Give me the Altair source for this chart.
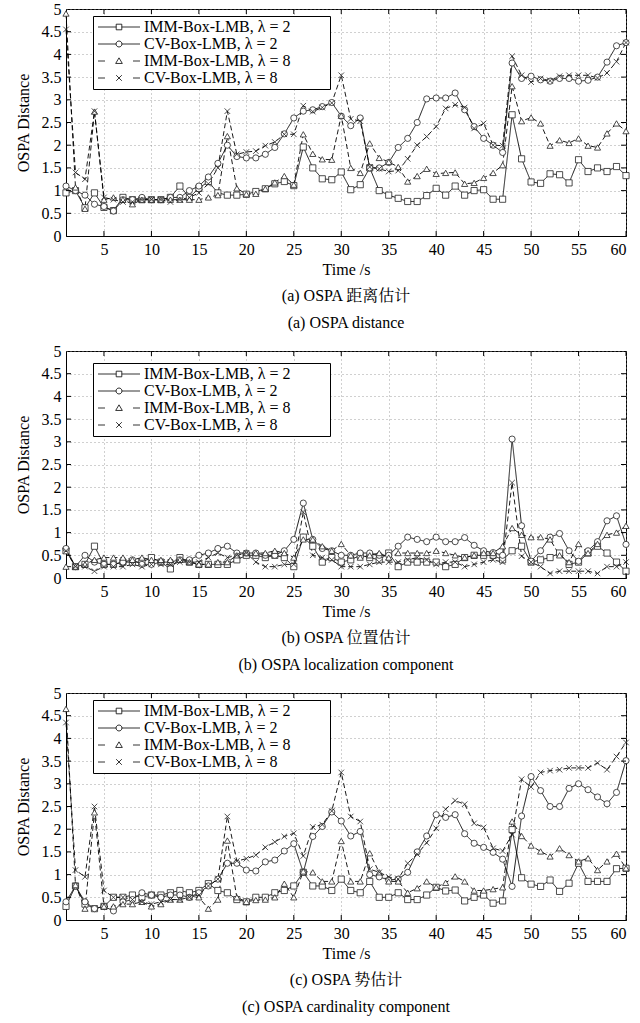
import altair as alt
import pandas as pd

FONT = "Liberation Serif, 'Noto Serif CJK SC', 'Noto Sans CJK SC', serif"

t = list(range(1, 61))
SERIES = ["IMM-Box-LMB, λ = 2", "CV-Box-LMB, λ = 2", "IMM-Box-LMB, λ = 8", "CV-Box-LMB, λ = 8"]

# ---- panel (a) OSPA distance
A_IMM2 = [0.95, 1.0, 0.62, 0.95, 0.63, 0.56, 0.85, 0.8, 0.8, 0.8,
          0.8, 0.85, 1.1, 0.85, 1.05, 1.2, 0.95, 0.9, 0.9, 0.92,
          0.98, 1.04, 1.15, 1.2, 1.11, 1.96, 1.5, 1.26, 1.24, 1.41,
          1.02, 1.13, 1.5, 1.0, 0.9, 0.83, 0.76, 0.76, 0.89, 1.05,
          0.9, 1.1, 0.9, 1.0, 1.02, 0.81, 0.81, 2.67, 1.7, 1.19,
          1.16, 1.37, 1.35, 1.17, 1.68, 1.42, 1.5, 1.42, 1.53, 1.33]
A_CV2 = [1.1, 1.0, 0.9, 0.7, 0.65, 0.55, 0.8, 0.8, 0.85, 0.8,
         0.8, 0.85, 0.85, 1.0, 1.1, 1.3, 1.6, 2.0, 1.75, 1.72,
         1.72, 1.8, 1.95, 2.25, 2.6, 2.75, 2.78, 2.85, 2.94, 2.64,
         2.43, 2.6, 1.5, 1.5, 1.62, 1.95, 2.15, 2.5, 3.02, 3.04,
         3.04, 3.15, 2.78, 2.41, 2.15, 2.0, 1.84, 3.81, 3.47, 3.52,
         3.44, 3.41, 3.47, 3.47, 3.41, 3.43, 3.5, 3.83, 4.19, 4.26]
A_IMM8 = [4.9, 1.07, 0.6, 2.74, 0.8, 0.85, 0.8, 0.7, 0.8, 0.8,
          0.8, 0.8, 0.8, 0.8, 0.8, 0.85, 0.9, 2.2, 1.05, 0.92,
          0.93, 1.04, 1.18, 1.32, 1.13, 2.24, 1.81, 1.69, 1.68, 2.65,
          1.5, 1.39, 2.04, 1.72, 1.63, 1.52, 1.2, 1.32, 1.48, 1.37,
          1.39, 1.4, 1.15, 1.17, 1.28, 1.39, 1.56, 3.3, 2.53, 2.61,
          2.48, 1.99, 2.11, 2.05, 2.15, 1.99, 1.95, 2.26, 2.48, 2.31]
A_CV8 = [4.55, 1.4, 1.25, 2.75, 0.85, 0.8, 0.75, 0.75, 0.8, 0.8,
         0.8, 0.75, 0.8, 0.85, 0.95, 1.15, 1.5, 2.75, 1.8, 1.85,
         1.87, 1.99, 2.07, 2.24, 2.24, 2.87, 2.74, 2.83, 2.93, 3.54,
         2.58, 2.53, 1.52, 1.48, 1.42, 1.44, 1.7, 2.0, 2.19, 2.41,
         2.81, 2.89, 2.83, 2.37, 2.48, 2.0, 1.99, 3.96, 3.54, 3.39,
         3.47, 3.42, 3.52, 3.54, 3.54, 3.54, 3.48, 3.59, 3.84, 4.26]

# ---- panel (b) OSPA localization
B_IMM2 = [0.6, 0.25, 0.3, 0.7, 0.3, 0.3, 0.35, 0.35, 0.35, 0.45,
          0.35, 0.2, 0.45, 0.35, 0.3, 0.3, 0.3, 0.3, 0.4, 0.5,
          0.5, 0.45, 0.5, 0.45, 0.25, 0.9, 0.7, 0.35, 0.45, 0.35,
          0.4, 0.5, 0.45, 0.4, 0.55, 0.25, 0.35, 0.35, 0.35, 0.35,
          0.25, 0.3, 0.45, 0.5, 0.5, 0.5, 0.4, 0.6, 0.7, 0.35,
          0.4, 0.45, 0.55, 0.3, 0.35, 0.55, 0.7, 0.55, 0.35, 0.15]
B_CV2 = [0.65, 0.25, 0.5, 0.35, 0.3, 0.3, 0.35, 0.4, 0.3, 0.3,
         0.35, 0.35, 0.4, 0.4, 0.5, 0.55, 0.65, 0.7, 0.55, 0.55,
         0.55, 0.5, 0.5, 0.6, 0.85, 1.65, 0.85, 0.65, 0.6, 0.5,
         0.5, 0.55, 0.55, 0.5, 0.5, 0.7, 0.9, 0.85, 0.8, 0.9,
         0.8, 0.8, 0.89, 0.72, 0.6, 0.56, 0.5, 3.06, 1.15, 0.37,
         0.6, 0.9, 0.98, 0.6, 0.37, 0.6, 0.8, 1.26, 1.37, 0.74]
B_IMM8 = [0.25, 0.25, 0.3, 0.4, 0.45, 0.45, 0.45, 0.4, 0.45, 0.4,
          0.4, 0.4, 0.4, 0.35, 0.3, 0.3, 0.35, 0.35, 0.5, 0.55,
          0.55, 0.55, 0.6, 0.55, 0.45, 0.85, 0.85, 0.7, 0.6, 0.75,
          0.5, 0.45, 0.5, 0.55, 0.45, 0.55, 0.55, 0.55, 0.55, 0.6,
          0.55, 0.5, 0.45, 0.5, 0.55, 0.55, 0.7, 1.1, 0.95, 0.9,
          0.9, 0.85, 0.5, 0.35, 0.75, 0.55, 0.75, 0.95, 1.0, 1.15]
B_CV8 = [0.6, 0.25, 0.25, 0.15, 0.25, 0.25, 0.25, 0.3, 0.25, 0.3,
         0.3, 0.3, 0.35, 0.35, 0.35, 0.45, 0.55, 0.45, 0.5, 0.55,
         0.35, 0.25, 0.25, 0.3, 0.3, 1.45, 0.5, 0.45, 0.4, 0.25,
         0.25, 0.25, 0.3, 0.35, 0.35, 0.35, 0.4, 0.45, 0.4, 0.3,
         0.35, 0.35, 0.25, 0.3, 0.35, 0.4, 0.35, 2.1, 0.48, 0.35,
         0.25, 0.1, 0.15, 0.15, 0.15, 0.15, 0.1, 0.25, 0.25, 0.35]

# ---- panel (c) OSPA cardinality
C_IMM2 = [0.3, 0.75, 0.35, 0.25, 0.3, 0.5, 0.5, 0.55, 0.5, 0.55,
          0.55, 0.6, 0.65, 0.6, 0.65, 0.8, 0.65, 0.6, 0.45, 0.4,
          0.5, 0.5, 0.6, 0.65, 0.75, 1.05, 0.75, 0.75, 0.65, 0.9,
          0.65, 0.6, 0.85, 0.5, 0.5, 0.6, 0.45, 0.45, 0.55, 0.72,
          0.64, 0.66, 0.42, 0.5, 0.55, 0.37, 0.42, 1.99, 0.93, 0.79,
          0.74, 0.88, 0.63, 0.81, 1.25, 0.85, 0.85, 0.85, 1.13, 1.14]
C_CV2 = [0.4, 0.75, 0.4, 0.25, 0.3, 0.2, 0.4, 0.45, 0.6, 0.55,
         0.5, 0.55, 0.55, 0.5, 0.6, 0.75, 0.9, 1.25, 1.25, 1.1,
         1.08, 1.28, 1.32, 1.52, 1.68, 1.05, 1.84, 2.06, 2.38, 2.18,
         1.85, 1.95, 1.0, 0.95, 0.88, 0.9, 1.05, 1.5, 1.85, 2.32,
         2.26, 2.32, 1.9, 1.69, 1.6, 1.49, 1.34, 0.74, 2.29, 3.16,
         2.85, 2.5, 2.5, 2.9, 3.0, 2.87, 2.71, 2.56, 2.81, 3.51]
C_IMM8 = [4.65, 0.77, 0.25, 2.37, 0.3, 0.3, 0.35, 0.35, 0.4, 0.3,
          0.35, 0.45, 0.45, 0.5, 0.5, 0.25, 0.45, 1.75, 0.5, 0.4,
          0.44, 0.45, 0.5, 0.8, 0.5, 1.07, 1.05, 0.85, 0.85, 1.74,
          0.85, 0.85, 1.47, 1.05, 0.85, 0.85, 0.6, 0.7, 0.85, 0.72,
          0.82, 0.96, 0.85, 0.65, 0.65, 0.68, 0.72, 2.17, 1.85, 1.64,
          1.51, 1.4, 1.58, 1.43, 1.29, 1.36, 1.1, 1.29, 1.46, 1.14]
C_CV8 = [4.35, 1.1, 0.95, 2.5, 0.65, 0.5, 0.5, 0.45, 0.4, 0.35,
         0.4, 0.45, 0.45, 0.5, 0.55, 0.75, 0.9, 2.28, 1.3, 1.35,
         1.43, 1.6, 1.72, 1.84, 1.91, 1.41, 2.05, 2.1, 2.4, 3.25,
         2.28, 2.17, 1.12, 1.05, 0.95, 0.9, 1.25, 1.45, 1.7, 2.02,
         2.44, 2.63, 2.55, 2.13, 2.04, 1.58, 1.52, 1.88, 3.1, 2.93,
         3.25, 3.29, 3.31, 3.35, 3.35, 3.35, 3.46, 3.31, 3.6, 3.91]

X_TICKS = [5, 10, 15, 20, 25, 30, 35, 40, 45, 50, 55, 60]
Y_TICKS = [0, 0.5, 1, 1.5, 2, 2.5, 3, 3.5, 4, 4.5, 5]

CAPTIONS = [
    ["(a) OSPA 距离估计", "(a) OSPA distance"],
    ["(b) OSPA 位置估计", "(b) OSPA localization component"],
    ["(c) OSPA 势估计", "(c) OSPA cardinality component"],
]

MARKERS = ["square", "circle", "triangle-up", "M-0.9,-0.9L0.9,0.9M-0.9,0.9L0.9,-0.9"]

# legend glyphs: line sample + marker (unit square coordinates, scaled by symbol size)
SQ = "M-0.8,-0.8H0.8V0.8H-0.8Z"
CI = "M0.85,0A0.85,0.85 0 1,1 -0.85,0A0.85,0.85 0 1,1 0.85,0Z"
TR = "M0,-0.9L0.95,0.7H-0.95Z"
XX = "M-0.8,-0.8L0.8,0.8M-0.8,0.8L0.8,-0.8"
SOLID = "M-6,0H-0.8M0.8,0H6"
DASH = "M-6,0H-4M4,0H6"
LEG_PATHS = [SOLID + SQ, SOLID + CI, DASH + TR, DASH + XX]

PAD = "\u00a0" * 9 + "\u200b"

W, H = 560, 227


def panel(vals, caption, leg_y):
    rows = []
    for s, v in zip(SERIES, vals):
        for ti, vi in zip(t, v):
            rows.append({"t": ti, "v": vi, "s": s})
    df = pd.DataFrame(rows)
    base = alt.Chart(df)
    xs = alt.Scale(domain=[1, 60], nice=False, zero=False)
    ys = alt.Scale(domain=[0, 5], nice=False)
    xa = alt.Axis(values=X_TICKS, title="Time /s")
    ya = alt.Axis(values=Y_TICKS, format="~g", title="OSPA Distance")
    x = alt.X("t:Q", scale=xs, axis=xa)
    y = alt.Y("v:Q", scale=ys, axis=ya)
    lines = base.mark_line(color="black", strokeWidth=0.9).encode(
        x=x, y=y,
        detail="s:N",
        strokeDash=alt.StrokeDash("s:N", scale=alt.Scale(domain=SERIES, range=[[1, 0], [1, 0], [5, 3], [5, 3]]),
                                  legend=None),
    )
    points = base.mark_point(filled=True, fill="white", stroke="#222", strokeWidth=0.8, size=38, opacity=1).encode(
        x=x, y=y,
        shape=alt.Shape("s:N", scale=alt.Scale(domain=SERIES, range=MARKERS), legend=None),
    )
    leg = base.transform_filter("datum.t < 0").mark_point(
        filled=False, color="black", strokeWidth=0.8, size=49, opacity=1
    ).encode(
        x=x, y=y,
        shape=alt.Shape("s:N", scale=alt.Scale(domain=SERIES, range=LEG_PATHS),
                        legend=alt.Legend(title=None, orient="none", legendX=27, legendY=leg_y,
                                          padding=3, rowPadding=1, strokeColor="black", fillColor="white",
                                          symbolSize=49, symbolStrokeColor="black",
                                          symbolStrokeWidth=0.8, symbolOffset=15, labelOffset=17,
                                          labelFont=FONT, labelFontSize=16, labelColor="black",
                                          labelLimit=400,
                                          labelExpr="datum.label + '" + PAD + "'")),
    )
    # inward tick marks on the four borders (MATLAB style)
    xt = alt.Chart(pd.DataFrame({"t": X_TICKS}))
    yt = alt.Chart(pd.DataFrame({"v": Y_TICKS[1:-1]}))
    tick_style = dict(color="black", strokeWidth=1)
    xb = xt.mark_rule(**tick_style).encode(x=x, y=alt.value(H), y2=alt.value(H - 5))
    xtop = xt.mark_rule(**tick_style).encode(x=x, y=alt.value(0), y2=alt.value(5))
    yl = yt.mark_rule(**tick_style).encode(y=y, x=alt.value(0), x2=alt.value(5))
    yr = yt.mark_rule(**tick_style).encode(y=y, x=alt.value(W), x2=alt.value(W - 5))
    return alt.layer(lines, points, xb, xtop, yl, yr, leg).resolve_scale(shape="independent").properties(
        width=W, height=H,
        title=alt.TitleParams(caption, orient="bottom", anchor="middle", font=FONT, fontSize=16,
                              fontWeight="normal", color="black", lineHeight=27, offset=11),
    )


pa = panel([A_IMM2, A_CV2, A_IMM8, A_CV8], CAPTIONS[0], 7)
pb = panel([B_IMM2, B_CV2, B_IMM8, B_CV8], CAPTIONS[1], 12)
pc = panel([C_IMM2, C_CV2, C_IMM8, C_CV8], CAPTIONS[2], 7)

chart = alt.vconcat(pa, pb, pc, spacing=10).properties(
    padding={"left": 14, "top": 0, "right": 5, "bottom": 5}
).configure(font=FONT).configure_view(stroke="black", strokeWidth=1).configure_axis(
    labelFont=FONT, labelFontSize=16, labelColor="black",
    titleFont=FONT, titleFontSize=16, titleFontWeight="normal", titleColor="black",
    domainColor="black", domainWidth=1, ticks=False, labelPadding=5,
    grid=True, gridColor="#888888", gridDash=[1, 3], gridWidth=0.8, gridOpacity=1,
).configure_axisX(titlePadding=4).configure_axisY(titlePadding=10)

chart.save("out.html", embed_options={"renderer": "svg", "actions": False})
